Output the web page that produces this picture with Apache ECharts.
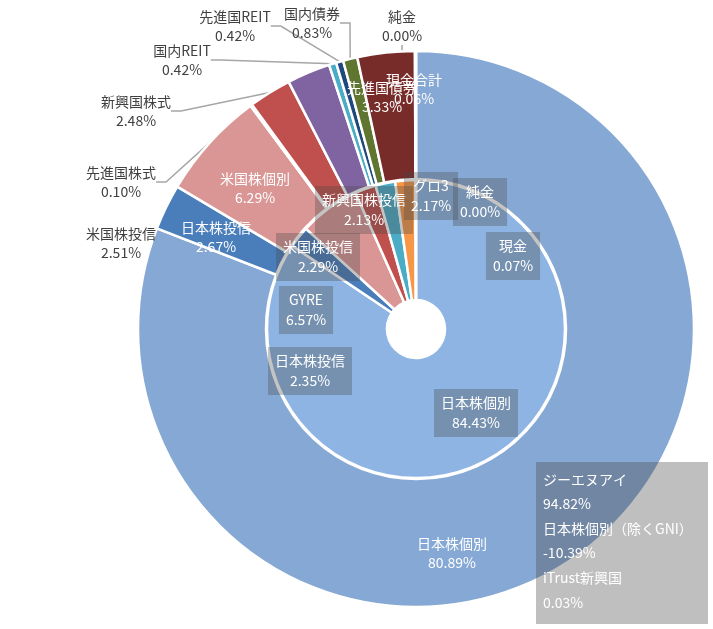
<!DOCTYPE html>
<html>
<head>
<meta charset="utf-8">
<script src="https://cdn.jsdelivr.net/npm/echarts@6/dist/echarts.min.js"></script>
<style>
html, body { margin: 0; padding: 0; background: #fff; }
#chart { width: 713px; height: 629px; }
</style>
</head>
<body>
<div id="chart"></div>
<script>
// outer ring: asset classes
var outerNames = ['日本株個別', '日本株投信', '米国株個別', '先進国株式', '新興国株式', '米国株投信', '国内REIT', '先進国REIT', '国内債券', '先進国債券', '現金合計', '純金'];
var outerValues = [80.89, 2.67, 6.29, 0.10, 2.48, 2.51, 0.42, 0.42, 0.83, 3.33, 0.06, 0.00];

// inner ring: holdings
var innerNames = ['日本株個別', '日本株投信', 'GYRE', '米国株投信', '新興国株投信', 'グロ3', '現金', '純金'];
var innerValues = [84.43, 2.35, 6.57, 2.29, 2.13, 2.17, 0.07, 0.00];

// text box lines
var noteLines = ['ジーエヌアイ', '94.82%', '日本株個別（除くGNI）', '-10.39%', 'iTrust新興国', '0.03%'];

//Colours
var outerColors = ['#86a8d4', '#4a7ebb', '#d99694', '#c0504d', '#c0504d', '#8064a2', '#4bacc6', '#1f497d', '#5f7530', '#772c2a', '#f79646', '#ffc000'];
var innerColors = ['#8db4e2', '#4a7ebb', '#d99694', '#c0504d', '#4bacc6', '#f79646', '#9bbb59', '#ffc000'];

// outer labels that sit outside the ring with a leader line
var outsideLabels = ['先進国株式', '新興国株式', '米国株投信', '国内REIT', '先進国REIT', '国内債券', '純金'];

// label spots (pixels), same order as the data
var outerSpots = [[452, 553], [216, 237], [255, 188], [121, 182], [136, 111], [121, 243], [182, 60], [235, 26], [312, 23], [382, 97], [414, 89], [402, 26]];
var innerSpots = [[476, 413], [310, 371], [306, 310], [318, 257], [364, 210], [431, 196], [513, 256], [480, 202]];

var font = '"Noto Sans CJK JP", "Noto Sans", sans-serif';

function fmt(p) {
    return p.name + '\n' + p.value.toFixed(2) + '%';
}

var outerData = outerNames.map(function (n, i) {
    var outside = outsideLabels.indexOf(n) >= 0;
    return {
        name: n,
        value: outerValues[i],
        itemStyle: { color: outerColors[i] },
        label: outside ? { position: 'outside', color: '#404040' } : { position: 'inside', color: '#fff' },
        labelLine: { show: outside }
    };
});

var innerData = innerNames.map(function (n, i) {
    return {
        name: n,
        value: innerValues[i],
        itemStyle: { color: innerColors[i] }
    };
});

var chart = echarts.init(document.getElementById('chart'));
chart.setOption({
    animation: false,
    graphic: [{
        type: 'rect',
        left: 536,
        top: 462,
        z: 100,
        zlevel: 1,
        shape: { width: 172, height: 162 },
        style: { fill: 'rgba(73,73,73,0.35)' }
    }, {
        type: 'text',
        left: 543,
        top: 467,
        z: 101,
        zlevel: 1,
        style: {
            text: noteLines.join('\n'),
            fill: '#fff',
            font: '14px ' + font,
            lineHeight: 24.6
        }
    }],
    series: [{
        type: 'pie',
        center: [416, 329],
        radius: [150, 278],
        startAngle: 90,
        avoidLabelOverlap: false,
        itemStyle: { borderColor: '#fff', borderWidth: 2.5 },
        label: {
            formatter: fmt,
            fontFamily: font,
            fontSize: 14,
            lineHeight: 19
        },
        labelLine: {
            length: 10,
            length2: 10,
            lineStyle: { color: '#a6a6a6', width: 1.5 }
        },
        labelLayout: function (p) {
            var s = outerSpots[p.dataIndex];
            return { x: s[0], y: s[1], align: 'center', verticalAlign: 'middle' };
        },
        data: outerData
    }, {
        type: 'pie',
        center: [416, 329],
        radius: [29, 149],
        startAngle: 90,
        avoidLabelOverlap: false,
        itemStyle: { borderColor: '#fff', borderWidth: 2.5 },
        label: {
            position: 'inside',
            formatter: fmt,
            fontFamily: font,
            fontSize: 14,
            lineHeight: 20,
            color: '#fff',
            backgroundColor: 'rgba(70,70,70,0.32)',
            padding: [4, 7]
        },
        labelLine: { show: false },
        labelLayout: function (p) {
            var s = innerSpots[p.dataIndex];
            return { x: s[0], y: s[1], align: 'center', verticalAlign: 'middle' };
        },
        data: innerData
    }]
});
</script>
</body>
</html>
